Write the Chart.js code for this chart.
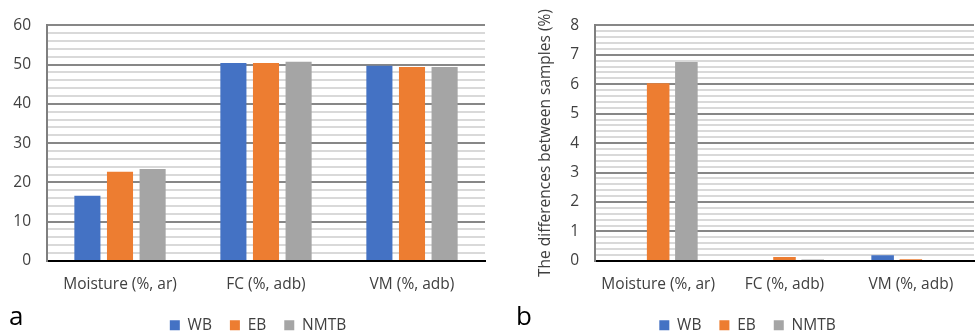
<!DOCTYPE html>
<html>
<head>
<meta charset="utf-8">
<script src="https://cdn.jsdelivr.net/npm/chart.js@4/dist/chart.umd.min.js"></script>
<style>
  body { margin: 0; width: 975px; height: 334px; overflow: hidden; background: #fff; position: relative; font-family: "Open Sans", sans-serif; }
  canvas { position: absolute; top: 0; }
  #chartA { left: 0; }
  #chartB { left: 487px; }
  .tag { position: absolute; font-size: 26px; line-height: 1; color: #000; }
</style>
</head>
<body>
<canvas id="chartA" width="517" height="334"></canvas>
<canvas id="chartB" width="520" height="334"></canvas>
<div class="tag" style="left:9px;top:302px">a</div>
<div class="tag" style="left:516px;top:302px">b</div>
<script>
const categories = ["Moisture (%, ar)", "FC (%, adb)", "VM (%, adb)"];
const seriesNames = ["WB", "EB", "NMTB"];
const seriesColors = ["#4472C4", "#ED7D31", "#A5A5A5"];

// panel a: measured values
const wbA = [16.6, 50.4, 49.7];
const ebA = [22.7, 50.4, 49.4];
const nmtbA = [23.4, 50.7, 49.4];

// panel b: differences between samples (%)
const wbB = [0, 0, 0.19];
const ebB = [6.03, 0.13, 0.06];
const nmtbB = [6.75, 0.05, 0];

const textColor = "#404040";
Chart.defaults.font.family = "'Open Sans', sans-serif";
Chart.defaults.font.size = 15.5;
Chart.defaults.color = textColor;

function isMajor(v, major) {
  const r = v / major;
  return Math.abs(r - Math.round(r)) < 1e-6;
}

// nudge the legend sideways (it is centred under the whole figure, not the plot)
const shiftLegend = {
  id: "shiftLegend",
  afterLayout(chart, args, opts) {
    chart.legend.left += opts.dx;
    chart.legend.right += opts.dx;
  }
};

function makeChart(id, values, yMax, step, major, axisWidth, padRight, legendDx, title) {
  return new Chart(document.getElementById(id), {
    type: "bar",
    data: {
      labels: categories,
      datasets: seriesNames.map((name, i) => ({
        label: name,
        data: values[i],
        backgroundColor: seriesColors[i],
        categoryPercentage: 0.67,
        barPercentage: 0.8
      }))
    },
    plugins: [shiftLegend],
    options: {
      responsive: false,
      animation: false,
      layout: { autoPadding: false, padding: { left: 0, right: padRight, top: 15, bottom: -9 } },
      plugins: {
        tooltip: { enabled: false },
        shiftLegend: { dx: legendDx },
        legend: {
          position: "bottom",
          labels: { boxWidth: 10, boxHeight: 10, padding: 18, color: textColor }
        }
      },
      scales: {
        x: {
          grid: { display: false, drawTicks: false },
          border: { color: "#000", width: 2 },
          ticks: { padding: 14.5, color: textColor },
          afterFit: (scale) => { scale.height -= 9; }
        },
        y: {
          min: 0,
          max: yMax,
          afterFit: (scale) => { scale.width = axisWidth; },
          title: {
            display: !!title,
            text: title,
            color: textColor,
            padding: { top: 49, bottom: 0 }
          },
          border: { color: "#7f7f7f", width: 2 },
          grid: {
            drawTicks: false,
            lineWidth: 2,
            color: (c) => isMajor(c.tick.value, major) ? "#878787" : "#d9d9d9"
          },
          ticks: {
            stepSize: step,
            maxTicksLimit: 100,
            autoSkip: false,
            padding: 16,
            color: textColor,
            callback: (v) => isMajor(v, major) ? Math.round(v) : ""
          }
        }
      }
    }
  });
}

makeChart("chartA", [wbA, ebA, nmtbA], 60, 2, 10, 47, 32, 15.5, "");
makeChart("chartB", [wbB, ebB, nmtbB], 8, 0.2, 1, 108, 33, 17, "The differences between samples (%)");
</script>
</body>
</html>
